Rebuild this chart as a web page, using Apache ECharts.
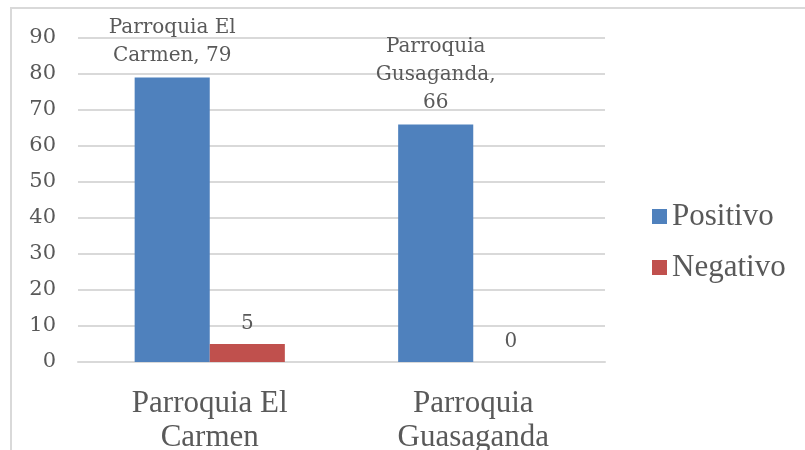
<!DOCTYPE html>
<html>
<head>
<meta charset="utf-8">
<script src="https://cdn.jsdelivr.net/npm/echarts@6/dist/echarts.min.js"></script>
<style>
  html, body { margin: 0; padding: 0; background: #fff; }
  #chart { width: 805px; height: 450px; }
</style>
</head>
<body>
<div id="chart"></div>
<script>
// Categories (x axis) and the names used inside the data labels
const categories = ['Parroquia El\nCarmen', 'Parroquia\nGuasaganda'];
const labelNames = ['Parroquia El\nCarmen', 'Parroquia\nGusaganda,'];
const seriesNames = ['Positivo', 'Negativo'];
const positivo = [79, 66];
const negativo = [5, 0];
const yTicks = { min: 0, max: 90, interval: 10 };

const textColor = '#595959';
const gridColor = '#d9d9d9';
const serif = '"Liberation Serif", "DejaVu Serif", serif';
const labelFont = '"DejaVu Serif", "Liberation Serif", serif';

const chart = echarts.init(document.getElementById('chart'));
chart.setOption({
  animation: false,
  backgroundColor: '#fff',
  graphic: [{
    type: 'rect',
    shape: { x: 11, y: 8, width: 800, height: 460 },
    style: { fill: 'none', stroke: gridColor, lineWidth: 2 },
    silent: true
  }],
  grid: { left: 78, right: 200, top: 38, bottom: 88, outerBoundsMode: 'none', containLabel: false },
  legend: {
    orient: 'vertical',
    left: 647,
    top: 196,
    itemWidth: 15,
    itemHeight: 15,
    itemGap: 20,
    icon: 'rect',
    textStyle: { fontFamily: serif, fontSize: 31, color: textColor, lineHeight: 29 },
    data: seriesNames
  },
  xAxis: {
    type: 'category',
    data: categories,
    axisLine: { lineStyle: { color: gridColor, width: 2 } },
    axisTick: { show: false },
    axisLabel: {
      fontFamily: serif, fontSize: 31, color: textColor,
      lineHeight: 34, margin: 25, interval: 0
    }
  },
  yAxis: {
    type: 'value',
    min: yTicks.min, max: yTicks.max, interval: yTicks.interval,
    axisLine: { show: false },
    axisTick: { show: false },
    splitLine: { lineStyle: { color: gridColor, width: 2 } },
    axisLabel: { fontFamily: labelFont, fontSize: 21, color: textColor, margin: 22 }
  },
  series: [
    {
      name: seriesNames[0],
      type: 'bar',
      data: positivo,
      barWidth: '28.5%',
      barGap: '0%',
      itemStyle: { color: '#4f81bd' },
      label: {
        show: true,
        position: 'top',
        distance: 8,
        fontFamily: labelFont,
        fontSize: 20,
        lineHeight: 28,
        color: textColor,
        formatter: p => {
          const n = labelNames[p.dataIndex];
          return n.endsWith(',') ? n + '\n' + p.value : n + ', ' + p.value;
        }
      }
    },
    {
      name: seriesNames[1],
      type: 'bar',
      data: negativo,
      barWidth: '28.5%',
      itemStyle: { color: '#c0504d' },
      label: {
        show: true,
        position: 'top',
        distance: 10,
        fontFamily: labelFont,
        fontSize: 20,
        color: textColor
      }
    }
  ]
});
</script>
</body>
</html>
